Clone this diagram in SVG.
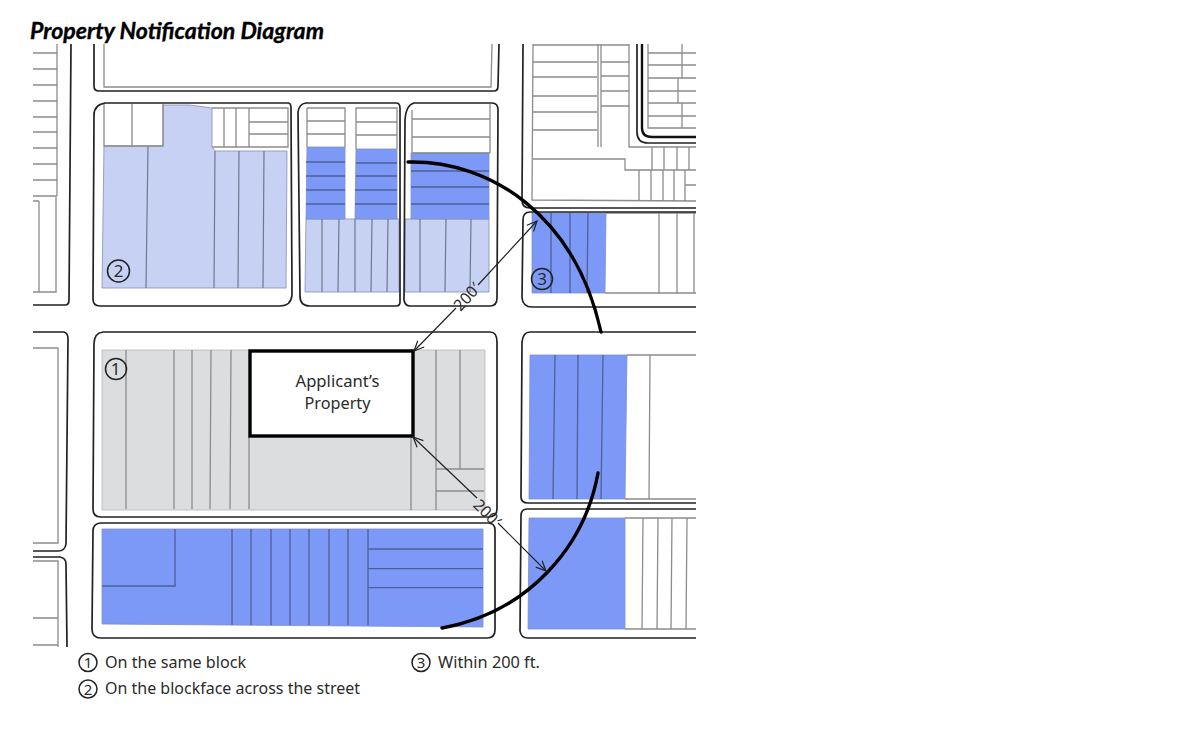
<svg xmlns="http://www.w3.org/2000/svg" width="1177" height="736" viewBox="0 0 1177 736">
<style>
text{font-family:"Noto Sans","Open Sans","Liberation Sans",sans-serif;fill:#2b2b2b}
.t{font-family:Lato,"Liberation Sans",sans-serif;font-weight:700;font-style:italic;font-size:22px;fill:#000;stroke:#000;stroke-width:.35}
.o{fill:none;stroke:#222;stroke-width:1.7;stroke-linejoin:round}
.l{fill:none;stroke:#8c8c8c;stroke-width:1.3}
.b{fill:none;stroke:#4f5f96;stroke-width:1.3}
.s{fill:none;stroke:#6f7890;stroke-width:1.2}
.g{fill:none;stroke:#8a8c8e;stroke-width:1.3}
.dk{fill:#7d99f8;stroke:#7f8fc0;stroke-width:.8}
.lt{fill:#c6d1f4;stroke:#8f98b8;stroke-width:.9}
.gr{fill:#dcddde;stroke:#b5b6b8;stroke-width:.8}
.c{fill:none;stroke:#222;stroke-width:1.5}
.n{font-size:17px;text-anchor:middle}
.m{font-size:15px;text-anchor:middle}
.k{font-size:16.5px}
.dim{font-size:16px;text-anchor:middle}
.arc{fill:none;stroke:#000;stroke-width:3.4;stroke-linecap:round}
.d{fill:none;stroke:#222;stroke-width:1.2}
</style>
<defs>
<marker id="h2" markerWidth="14" markerHeight="14" refX="12" refY="7" orient="auto" markerUnits="userSpaceOnUse"><path d="M2 2.500 L12 7 L2 11.500" fill="none" stroke="#222" stroke-width="1.2"/></marker>
<marker id="h1" markerWidth="14" markerHeight="14" refX="2" refY="7" orient="auto" markerUnits="userSpaceOnUse"><path d="M12 2.500 L2 7 L12 11.500" fill="none" stroke="#222" stroke-width="1.2"/></marker>
</defs>
<rect width="1177" height="736" fill="#fff"/>
<text id="title" class="t" x="30" y="39" textLength="294" lengthAdjust="spacingAndGlyphs">Property Notification Diagram</text>

<g id="block-left-top">
<path class="o" d="M33 305 H65 Q69 305 69 300 L71 44"/>
<path class="l" d="M57 44 V196 M56 197 V292 H33 M39 201 V292 M33 53 H57 M33 69 H57 M33 85 H57 M33 101 H57 M33 117 H57 M33 132 H57 M33 148 H57 M33 164 H57 M33 180 H57 M33 196 H57 M33 201 H39"/>
</g>
<g id="block-top">
<path class="o" d="M94 44 V86 Q94 91 99 91 H494 Q498 91 498 86 L499 44"/>
<path class="l" d="M104 44 V87 H491 L492 44"/>
</g>
<g id="block-2">
<path class="lt" d="M104 146 H163 V105 L190 105 L212 108 V147 L215 151 H287 L286 288 H102 Z"/>
<path class="s" d="M148 146 L146 288 M215 151 L214 288 M239 151 L238 288 M264 151 L263 288"/>
<path class="l" d="M104 104 V146 H163 V104 M132 104 V146 M212 108 H288 V147 H212 M224 108 V147 M236 108 V147 M249 108 V147 M249 122 H288 M249 134 H288"/>
<path class="o" d="M105 103 H288 Q291 103 291 108 L292 295 Q291 306 280 306 H100 Q93 306 93 299 L94 115 Q94 105 105 103 Z"/>
<g id="label-2"><circle class="c" cx="118.500" cy="271" r="11"/><text class="n" x="118.500" y="277">2</text></g>
</g>
<g id="block-4">
<path class="lt" d="M306 219 H399 V292 H305 Z"/>
<path class="dk" d="M307 147 H345 V219 H306 Z M356 149 H397 V219 H355 Z"/>
<path class="b" d="M306 162 H345 M306 176 H345 M306 190 H345 M306 204 H345 M356 163 H397 M356 176 H397 M355 190 H397 M355 204 H397"/>
<path class="l" d="M307 108 H345 V147 M307 147 V108 M307 121 H345 M307 134 H345 M356 149 V108 H397 V149 M356 122 H397 M356 135 H397"/>
<path class="s" d="M322 219 L322 292 M339 219 L338 292 M355 219 V292 M372 219 L371 292 M388 219 L387 292"/>
<path class="o" d="M306 103 H396 Q400 103 400 108 L400 302 Q400 306 396 306 H310 Q300 306 300 296 L298 112 Q299 104 306 103 Z"/>
</g>
<g id="block-5">
<path class="lt" d="M405 219 H489 V292 H405 Z"/>
<path class="dk" d="M411 153 H489 V219 H411 Z"/>
<path class="b" d="M411 171 H489 M411 187 H489 M411 204 H489"/>
<path class="l" d="M412 110 V153 M490 104 V153 M412 119 H490 M412 137 H490 M412 153 H490"/>
<path class="s" d="M420 219 L420 292 M446 219 L445 292 M471 219 L470 292"/>
<path class="o" d="M414 103 H492 Q498 103 498 110 L497 298 Q497 306 490 306 H410 Q405 306 404 300 L405 120 Q406 105 414 103 Z"/>
</g>
<g id="block-top-right">
<path class="o" d="M523 44 L522 200 Q522 208 530 208 H696"/>
<path class="l" d="M533 45 H629 M533 44 L532 200 L696 201 M533 62 H597 M533 77 H597 M533 96 H597 M533 112 H597 M533 130 H597 M533 159 H625 V170 H696 M598 44 V147 M601 44 V147 M601 62 H629 M601 76 H629 M601 91 H629 M601 106 H629 M629 44 V147 H696 M652 147 V170 M664 147 V170 M677 147 V170 M689 147 V170 M639 170 V201 M651 170 V201 M663 170 V201 M674 170 V201 M685 170 V201 M685 185 H696"/>
<path class="o" d="M637 44 V132 Q637 143 648 143 H696"/>
<path d="M642 44 V128 Q642 137 652 137 H696" fill="none" stroke="#111" stroke-width="2.400"/>
<path class="l" d="M648 44 V128 H696 M648 53 H696 M648 65 H696 M648 78 H696 M648 91 H696 M648 103 H696 M648 116 H696 M682 44 V78 M678 78 V103 M682 103 V128"/>
</g>
<g id="block-3">
<path class="dk" d="M532 213 H606 L605 293 H532 Z"/>
<path class="b" d="M551 213 V293 M570 213 V293 M588 213 L587 293"/>
<path class="l" d="M606 213 H696 M605 293 H696 M659 213 V293 M677 213 V293 M694 213 V293"/>
<path class="o" d="M696 212 H530 Q523 212 523 220 L522 298 Q523 307 532 307 H696"/>
<g id="label-3"><circle class="c" cx="542" cy="279" r="10.500"/><text class="n" x="542" y="285">3</text></g>
</g>
<g id="block-1">
<path class="gr" d="M102 350 H485 V510 H102 Z"/>
<path class="g" d="M126 350 L126 509 M174 350 V509 M192 350 V509 M211 350 L210 509 M231 350 L230 509 M249 436 V509 M411 436 V510 M436 350 V510 M460 350 V469 M436 469 H484 M436 491 H484"/>
<path class="o" d="M103 332 H490 Q497 332 497 342 L497 509 Q497 517 488 517 H101 Q93 517 93 509 L94 344 Q94 333 103 332 Z"/>
<g id="applicant">
<rect x="250" y="351" width="163" height="85" fill="#fff" stroke="#000" stroke-width="3.400"/>
<text x="337.500" y="387" font-size="16.500" text-anchor="middle" textLength="84" lengthAdjust="spacingAndGlyphs">Applicant’s</text>
<text x="337.500" y="409" font-size="16.500" text-anchor="middle" textLength="66" lengthAdjust="spacingAndGlyphs">Property</text>
</g>
<g id="label-1"><circle class="c" cx="116" cy="369" r="10.500"/><text class="n" x="115.500" y="375">1</text></g>
</g>
<g id="block-bottom">
<path class="dk" d="M102 529 H483 V627 L102 624 Z"/>
<path class="b" d="M175 529 V586 H102 M232 529 V625 M251 529 V625 M271 529 V625 M290 529 V625 M309 529 V625 M329 529 V625 M348 529 V625 M368 529 V625 M368 549 H483 M368 568.700 H483 M368 587.700 H483"/>
<path class="o" d="M100 523 H488 Q495 523 495 530 L495 630 Q495 638 487 638 H101 Q92 638 92 629 L93 531 Q93 524 100 523 Z"/>
</g>
<g id="block-right-mid">
<path class="dk" d="M530 355 H627 L625 499 H529 Z"/>
<path class="b" d="M555 355 L553 499 M578 355 L577 499 M603 355 L601 499"/>
<path class="l" d="M627 355 H696 M625 499 H696 M650 355 L649 499"/>
<path class="o" d="M696 332 H530 Q523 332 522 342 L521 497 Q521 503 528 503 H696"/>
</g>
<g id="block-right-low">
<path class="dk" d="M529 518 H625 V629 H528 Z"/>
<path class="l" d="M625 518 H696 M625 629 H696 M643 518 L642 629 M658 518 L657 629 M672 518 L671 629 M687 518 L686 629"/>
<path class="o" d="M696 509 H527 Q521 509 521 516 L520 631 Q521 638 528 638 H696"/>
</g>
<g id="block-left-mid">
<path class="o" d="M33 332 H64 Q68 333 68 339 L66 544 Q65 551 58 551 H33"/>
<path class="l" d="M33 348 H58 V543 H33"/>
</g>
<g id="block-left-low">
<path class="o" d="M33 557 H60 Q66 558 66 564 L67 647"/>
<path class="l" d="M33 561 H58 V647 M33 618 H58 M33 645 H58"/>
</g>

<g id="connectors">
<path class="arc" d="M408 162 C490 160 575 215 601 332"/>
<path class="arc" d="M598 473 C585 545 530 612 442 628"/>
<path class="d" marker-end="url(#h2)" d="M478 285 L537 221"/>
<path class="d" marker-start="url(#h1)" d="M414 351 L456 308"/>
<path class="d" marker-start="url(#h1)" d="M413 437 L477 498"/>
<path class="d" marker-end="url(#h2)" d="M498 523 L546 571"/>
</g>
<g id="dimension-labels">
<text class="dim" x="467" y="302.500" textLength="31" lengthAdjust="spacingAndGlyphs" transform="rotate(-47 467 297)">200′</text>
<text class="dim" x="487" y="518.500" textLength="31" lengthAdjust="spacingAndGlyphs" transform="rotate(45 487 513)">200′</text>
</g>
<g id="legend">
<circle class="c" cx="88" cy="662.500" r="9"/><text class="m" x="88" y="668">1</text>
<text class="k" x="105" y="667.500" textLength="141" lengthAdjust="spacingAndGlyphs">On the same block</text>
<circle class="c" cx="88" cy="689" r="9"/><text class="m" x="88" y="694.500">2</text>
<text class="k" x="105" y="694" textLength="255" lengthAdjust="spacingAndGlyphs">On the blockface across the street</text>
<circle class="c" cx="421" cy="662.500" r="9"/><text class="m" x="421" y="668">3</text>
<text class="k" x="438" y="667.500" textLength="102" lengthAdjust="spacingAndGlyphs">Within 200 ft.</text>
</g>
</svg>
